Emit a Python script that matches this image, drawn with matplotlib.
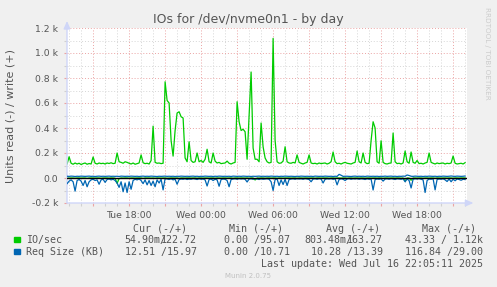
import numpy as np
import pandas as pd
import matplotlib
matplotlib.use('Agg')
import matplotlib.pyplot as plt
import matplotlib.dates as mdates
from matplotlib.patches import Rectangle
from matplotlib.ticker import MultipleLocator, FuncFormatter

# 10 minute samples, Tue 15 Jul 12:52 -> Wed 16 Jul 22:02
times = pd.date_range('2025-07-15 12:52', periods=200, freq='10min')

# IO/sec write (+)
io_write = [
    112, 170, 118, 110, 120, 112, 118, 108, 115, 120, 110, 116, 112, 168, 118, 112, 120, 115, 118, 112,
    120, 116, 122, 115, 118, 200, 130, 125, 118, 130, 125, 118, 112, 120, 110, 115, 120, 185, 122, 115,
    118, 112, 140, 415, 125, 118, 120, 115, 118, 770, 620, 600, 300, 175, 380, 520, 530, 490, 480, 160,
    130, 290, 140, 125, 130, 200, 130, 140, 125, 150, 230, 130, 120, 200, 135, 120, 125, 115, 118, 120,
    135, 118, 112, 120, 125, 610, 450, 380, 390, 370, 150, 500, 848, 240, 150, 150, 130, 440, 250, 160,
    130, 120, 125, 1117, 300, 130, 118, 120, 135, 250, 130, 120, 118, 125, 120, 185, 125, 118, 112, 120,
    125, 185, 120, 115, 118, 112, 120, 115, 118, 120, 112, 118, 130, 208, 130, 115, 118, 112, 120, 125,
    118, 115, 112, 120, 125, 216, 130, 120, 200, 125, 115, 118, 300, 450, 400, 130, 118, 298, 125, 115,
    112, 118, 120, 360, 130, 115, 118, 112, 120, 216, 130, 118, 208, 125, 118, 140, 115, 118, 112, 120,
    125, 200, 125, 118, 112, 120, 115, 118, 120, 112, 118, 115, 120, 176, 118, 112, 115, 118, 112, 122.7,
]

# IO/sec read (-), stored as magnitudes
io_read = [
    0, 1, 0, 0, 2, 0, 0, 1, 0, 0, 3, 0, 0, 0, 1, 0, 0, 2, 0, 0,
    0, 1, 0, 0, 2, 43, 5, 0, 1, 0, 0, 2, 0, 0, 1, 0, 0, 0, 3, 0,
    0, 0, 1, 0, 2, 0, 0, 1, 0, 0, 2, 1, 0, 0, 1, 0, 3, 0, 0, 1,
    0, 0, 1, 0, 0, 2, 0, 0, 1, 0, 0, 1, 0, 0, 2, 0, 0, 1, 0, 0,
    1, 0, 0, 2, 0, 0, 1, 0, 0, 1, 0, 2, 0, 0, 16, 0, 1, 0, 0, 2,
    0, 0, 1, 0, 0, 2, 0, 0, 1, 0, 0, 0, 1, 0, 0, 2, 0, 0, 1, 0,
    0, 1, 0, 0, 2, 0, 0, 1, 0, 0, 0, 2, 0, 0, 1, 0, 0, 1, 0, 0,
    2, 0, 0, 1, 0, 0, 1, 0, 0, 2, 0, 0, 1, 0, 0, 1, 0, 0, 2, 0,
    0, 1, 0, 0, 1, 0, 0, 2, 0, 24, 0, 1, 18, 0, 0, 1, 0, 0, 2, 0,
    0, 1, 0, 0, 2, 0, 0, 1, 0, 0, 1, 0, 0, 2, 0, 0, 1, 0, 0, 0.05,
]

# Req Size (KB) write (+)
req_write = [
    14, 13, 15, 14, 12, 14, 13, 15, 14, 13, 14, 15, 13, 14, 12, 14, 15, 13, 14, 13,
    14, 15, 13, 14, 13, 14, 12, 15, 14, 13, 14, 13, 15, 14, 13, 14, 12, 14, 15, 13,
    14, 13, 15, 14, 13, 12, 14, 13, 14, 15, 13, 14, 13, 14, 12, 14, 13, 15, 14, 13,
    14, 13, 14, 15, 13, 14, 12, 14, 13, 15, 14, 13, 14, 12, 14, 13, 15, 14, 13, 14,
    13, 14, 12, 15, 14, 13, 14, 13, 15, 14, 13, 14, 12, 14, 13, 14, 15, 13, 14, 13,
    14, 13, 15, 14, 13, 14, 12, 14, 13, 15, 14, 13, 14, 13, 12, 14, 13, 15, 14, 13,
    14, 13, 14, 12, 15, 14, 13, 14, 13, 15, 14, 13, 14, 12, 14, 13, 29, 22, 13, 14,
    14, 13, 12, 14, 15, 13, 14, 13, 14, 12, 15, 14, 13, 14, 13, 14, 12, 14, 13, 15,
    13, 14, 15, 13, 14, 12, 14, 13, 15, 14, 24, 20, 14, 13, 15, 14, 13, 14, 12, 14,
    13, 15, 14, 13, 14, 12, 14, 13, 15, 14, 13, 14, 16, 14, 13, 15, 14, 13, 14, 15.97,
]

# Req Size (KB) read (-), stored as magnitudes
req_read = [
    45, 25, 15, 30, 105, 20, 12, 25, 60, 20, 70, 30, 15, 10, 20, 15, 50, 15, 10, 35,
    12, 8, 15, 10, 20, 40, 75, 30, 110, 40, 116, 30, 90, 20, 10, 15, 8, 20, 45, 15,
    55, 20, 60, 25, 70, 15, 40, 10, 95, 5, 8, 12, 6, 15, 10, 50, 12, 8, 10, 6,
    12, 8, 10, 5, 8, 12, 6, 10, 8, 15, 64, 12, 8, 20, 10, 15, 66, 12, 8, 10,
    20, 70, 12, 8, 6, 10, 5, 8, 6, 10, 32, 8, 6, 10, 5, 8, 12, 6, 10, 8,
    6, 10, 30, 100, 12, 8, 60, 15, 52, 10, 60, 12, 8, 6, 10, 5, 8, 6, 10, 5,
    8, 12, 30, 8, 6, 10, 5, 8, 40, 10, 6, 8, 5, 10, 6, 55, 12, 6, 10, 20,
    8, 5, 10, 6, 8, 5, 10, 6, 8, 12, 6, 10, 8, 96, 12, 8, 10, 6, 25, 8,
    6, 10, 5, 8, 12, 6, 8, 10, 6, 30, 8, 20, 80, 10, 6, 8, 5, 10, 15, 116,
    20, 8, 10, 6, 95, 12, 8, 10, 6, 15, 28, 8, 30, 10, 22, 8, 12, 18, 10, 12.51,
]

# legend table
legend_names = ['IO/sec', 'Req Size (KB)']
legend_cur = ['54.90m/122.72', '12.51 /15.97']
legend_min = ['0.00 /95.07', '0.00 /10.71']
legend_avg = ['803.48m/163.27', '10.28 /13.39']
legend_max = ['43.33 / 1.12k', '116.84 /29.00']

green = '#00cc00'
blue = '#0066b3'
txt = '#555555'
W, H = 497, 287

fig = plt.figure(figsize=(W / 100, H / 100), dpi=100, facecolor='#f0f0f0')
ax = fig.add_axes([67 / W, 1 - 203 / H, 400 / W, 175 / H])
ax.set_facecolor('white')

ax.plot(times, np.array(io_write), color=green, lw=0.9, zorder=3)
ax.plot(times, -np.array(io_read), color=green, lw=0.9, zorder=3)
ax.plot(times, np.array(req_write), color=blue, lw=0.9, zorder=4)
ax.plot(times, -np.array(req_read), color=blue, lw=0.9, zorder=4)
ax.axhline(0, color='black', lw=1.0, zorder=5)

# axes limits: 400 px at 5 min per px
t0 = pd.Timestamp('2025-07-15 12:51:30')
ax.set_xlim(t0, t0 + pd.Timedelta(minutes=2000))
ax.set_ylim(-200, 1200)

# grid: hours minor, 3h major, labels every 6h
ax.xaxis.set_major_locator(mdates.HourLocator(byhour=range(0, 24, 3)))
ax.xaxis.set_minor_locator(mdates.HourLocator())

def xlab(x, pos):
    d = mdates.num2date(x)
    return d.strftime('%a %H:%M') if d.hour % 6 == 0 else ''

ax.xaxis.set_major_formatter(FuncFormatter(xlab))
ax.yaxis.set_major_locator(MultipleLocator(200))
ax.yaxis.set_minor_locator(MultipleLocator(100))
ax.yaxis.set_major_formatter(FuncFormatter(
    lambda v, p: '0.0' if abs(v) < 1e-9 else '%.1f k' % (v / 1000)))

ax.set_axisbelow(True)
ax.grid(which='minor', color='#d6d6d6', ls=(0, (1, 2)), lw=0.7)
ax.grid(which='major', color='#eba3a3', ls=(0, (1, 2)), lw=0.7)
ax.tick_params(which='major', length=2.5, width=0.8, color='#eba3a3',
               labelcolor=txt, labelsize=6.7)
ax.tick_params(which='minor', length=2.5, width=0.8, color='#d0d0d0')
ax.tick_params(axis='x', pad=3)
ax.tick_params(axis='y', pad=4)

for s in ax.spines.values():
    s.set_visible(False)

# rrdtool style axes with arrows
axis_col = '#cfd6f8'
ax.annotate('', xy=(0, 1.04), xytext=(0, 0), xycoords='axes fraction',
            arrowprops=dict(arrowstyle='-|>,head_length=0.45,head_width=0.2',
                            color=axis_col, lw=1, shrinkA=0, shrinkB=0))
ax.annotate('', xy=(1.016, 0), xytext=(0, 0), xycoords='axes fraction',
            arrowprops=dict(arrowstyle='-|>,head_length=0.45,head_width=0.2',
                            color=axis_col, lw=1, shrinkA=0, shrinkB=0))

# titles
fig.text(248.5 / W, 1 - 23.5 / H, 'IOs for /dev/nvme0n1 - by day',
         ha='center', va='baseline', fontsize=9, color=txt)
fig.text(11 / W, 1 - 116 / H, 'Units read (-) / write (+)', rotation=90,
         ha='center', va='center', fontsize=8, color=txt)
fig.text(487.5 / W, 1 - 53 / H, 'RRDTOOL / TOBI OETIKER', rotation=270,
         ha='center', va='center', fontsize=5.2, color='#cccccc')

# legend
mono = 'DejaVu Sans Mono'
cw = 6.02
def ftext(x, y, s, **kw):
    fig.text(x / W, 1 - y / H, s, family=mono, fontsize=7.2, color=txt,
             va='baseline', **kw)

for s, r in zip(['Cur (-/+)', 'Min (-/+)', 'Avg (-/+)', 'Max (-/+)'],
                [187, 283, 380, 476]):
    ftext(r, 231.6, s, ha='right')

rows_y = [243, 255]
for k, (col, yy) in enumerate(zip([green, blue], rows_y)):
    fig.patches.append(Rectangle((14 / W, 1 - (yy - 1) / H), 5.5 / W, 5.5 / H,
                                 transform=fig.transFigure, color=col))
    ftext(26, yy, legend_names[k], ha='left')
    for vals, right in zip([legend_cur, legend_min, legend_avg, legend_max],
                           [197, 290, 383, 483]):
        s = vals[k]
        if 'm/1' in s:
            # rrdtool draws the slash on top of the next digit
            i = s.index('m/1') + 1
            s1 = s[:i + 1] + s[i + 2:]
            left = right - len(s1) * cw
            ftext(left, yy, s1, ha='left')
            ftext(left, yy, ' ' * i + '1', ha='left')
        else:
            ftext(right, yy, s, ha='right')

ftext(483, 266.6, 'Last update: Wed Jul 16 22:05:11 2025', ha='right')
fig.text(248 / W, 1 - 278.3 / H, 'Munin 2.0.75', ha='center', va='baseline',
         fontsize=5, color='#c0c0c0')

fig.savefig('out.png', dpi=100, facecolor=fig.get_facecolor())
